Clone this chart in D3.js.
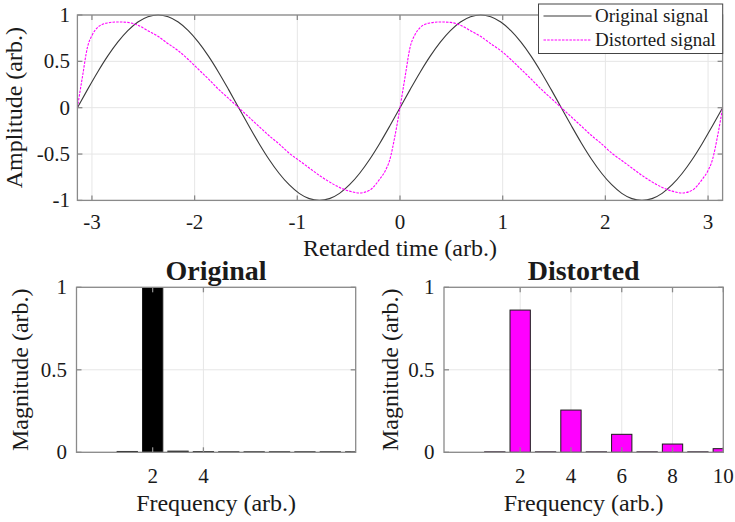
<!DOCTYPE html>
<html>
<head>
<meta charset="utf-8">
<script src="https://cdn.jsdelivr.net/npm/d3@7"></script>
<style>
  html, body { margin: 0; padding: 0; background: #fff; }
  text { font-family: "Liberation Serif", "Times New Roman", serif; fill: #1a1a1a; }
</style>
</head>
<body>
<svg id="chart" width="735" height="522"></svg>
<script>
// ---------------- DATA ----------------
// Original signal samples (retarded time, amplitude)
const time = [-3.1416,-3.0434,-2.9452,-2.8471,-2.7489,-2.6507,-2.5525,-2.4544,-2.3562,-2.2580,-2.1598,-2.0617,-1.9635,-1.8653,-1.7671,-1.6690,-1.5708,-1.4726,-1.3744,-1.2763,-1.1781,-1.0799,-0.9817,-0.8836,-0.7854,-0.6872,-0.5890,-0.4909,-0.3927,-0.2945,-0.1963,-0.0982,0,0.0982,0.1963,0.2945,0.3927,0.4909,0.5890,0.6872,0.7854,0.8836,0.9817,1.0799,1.1781,1.2763,1.3744,1.4726,1.5708,1.6690,1.7671,1.8653,1.9635,2.0617,2.1598,2.2580,2.3562,2.4544,2.5525,2.6507,2.7489,2.8471,2.9452,3.0434,3.1416];
const originalSignal = [0,.195,.383,.556,.707,.831,.924,.981,1,.981,.924,.831,.707,.556,.383,.195,0,-.195,-.383,-.556,-.707,-.831,-.924,-.981,-1,-.981,-.924,-.831,-.707,-.556,-.383,-.195,0,.195,.383,.556,.707,.831,.924,.981,1,.981,.924,.831,.707,.556,.383,.195,0,-.195,-.383,-.556,-.707,-.831,-.924,-.981,-1,-.981,-.924,-.831,-.707,-.556,-.383,-.195,0];
// Distorted signal samples (denser where the wave is steep)
const distortedTime = [-3.142,-3.093,-3.044,-2.995,-2.946,-2.897,-2.847,-2.749,-2.651,-2.553,-2.455,-2.357,-2.258,-2.160,-2.062,-1.964,-1.866,-1.768,-1.669,-1.571,-1.473,-1.375,-1.277,-1.179,-1.080,-0.982,-0.884,-0.786,-0.688,-0.589,-0.491,-0.393,-0.295,-0.246,-0.197,-0.148,-0.099,-0.050,
  0,0.049,0.098,0.147,0.196,0.245,0.295,0.393,0.491,0.589,0.687,0.785,0.884,0.982,1.080,1.178,1.276,1.374,1.473,1.571,1.669,1.767,1.865,1.963,2.062,2.160,2.258,2.356,2.454,2.553,2.651,2.749,2.847,2.896,2.945,2.994,3.043,3.092,3.142];
const distortedSignal = [0,.33,.65,.79,.865,.90,.915,.925,.92,.89,.83,.77,.69,.615,.52,.415,.31,.20,.10,0,-.10,-.20,-.30,-.39,-.49,-.57,-.65,-.73,-.80,-.86,-.90,-.92,-.89,-.84,-.77,-.69,-.56,-.31,
  0,.33,.65,.79,.865,.90,.915,.925,.92,.89,.83,.77,.69,.615,.52,.415,.31,.20,.10,0,-.10,-.20,-.30,-.39,-.49,-.57,-.65,-.73,-.80,-.86,-.90,-.92,-.89,-.84,-.77,-.69,-.56,-.31,0];
const topXTicks = [-3,-2,-1,0,1,2,3];
const topYTicks = [-1,-0.5,0,0.5,1];

const frequency = [1,2,3,4,5,6,7,8,9,10];
const originalMagnitude = [0.005,1,0.007,0.004,0.003,0.003,0.003,0.003,0.003,0.003];
const distortedMagnitude = [0.003,0.862,0.003,0.256,0.003,0.109,0.003,0.050,0.003,0.022];
const origXTicks = [2,4];
const distXTicks = [2,4,6,8,10];
const magYTicks = [0,0.5,1];

const legendLabels = ["Original signal","Distorted signal"];

// ---------------- DRAW ----------------
const svg = d3.select("#chart");
svg.append("rect").attr("width",735).attr("height",522).attr("fill","#fff");

const AX = "#8a8a8a", GRID = "#e6e6e6", TICKLEN = 5;
const fmt = d => d3.format("~g")(d).replace("\u2212","-");

function grid(g, x, y, xt, yt) {
  const [x0,x1] = x.range(), y0 = y.range()[1], y1 = y.range()[0];
  g.append("g").selectAll("line").data(xt).join("line").attr("stroke",GRID).attr("stroke-width",1)
    .attr("x1",d=>x(d)).attr("x2",d=>x(d)).attr("y1",y0).attr("y2",y1);
  g.append("g").selectAll("line").data(yt).join("line").attr("stroke",GRID).attr("stroke-width",1)
    .attr("y1",d=>y(d)).attr("y2",d=>y(d)).attr("x1",x0).attr("x2",x1);
}
function box(g, x, y, xt, yt, o) {
  const [x0,x1] = x.range(), y0 = y.range()[1], y1 = y.range()[0];
  const ax = g.append("g");
  ax.append("rect").attr("x",x0).attr("y",y0).attr("width",x1-x0).attr("height",y1-y0)
    .attr("fill","none").attr("stroke",AX).attr("stroke-width",1.3);
  xt.forEach(d=>{
    ax.append("line").attr("x1",x(d)).attr("x2",x(d)).attr("y1",y1).attr("y2",y1-TICKLEN).attr("stroke",AX).attr("stroke-width",1.3);
    ax.append("line").attr("x1",x(d)).attr("x2",x(d)).attr("y1",y0).attr("y2",y0+TICKLEN).attr("stroke",AX).attr("stroke-width",1.3);
    ax.append("text").attr("x",x(d)).attr("y",y1+o.xTickDy).attr("text-anchor","middle")
      .attr("font-size",o.tickSize).text(fmt(d));
  });
  yt.forEach(d=>{
    ax.append("line").attr("y1",y(d)).attr("y2",y(d)).attr("x1",x0).attr("x2",x0+TICKLEN).attr("stroke",AX).attr("stroke-width",1.3);
    ax.append("line").attr("y1",y(d)).attr("y2",y(d)).attr("x1",x1).attr("x2",x1-TICKLEN).attr("stroke",AX).attr("stroke-width",1.3);
    ax.append("text").attr("x",x0-o.yTickGap).attr("y",y(d)+7).attr("text-anchor","end")
      .attr("font-size",o.tickSize).text(fmt(d));
  });
  ax.append("text").attr("x",(x0+x1)/2).attr("y",o.xLabelY).attr("text-anchor","middle")
    .attr("font-size",24).text(o.xLabel);
  ax.append("text").attr("transform",`translate(${o.yLabelX},${(y0+y1)/2}) rotate(-90)`)
    .attr("text-anchor","middle").attr("font-size",24).text(o.yLabel);
  if (o.title) ax.append("text").attr("x",(x0+x1)/2).attr("y",o.titleY).attr("text-anchor","middle")
    .attr("font-size",28).attr("font-weight","bold").text(o.title);
}

// ---- Top plot ----
const xT = d3.scaleLinear().domain([-Math.PI, Math.PI]).range([77.4, 722.6]);
const yT = d3.scaleLinear().domain([-1, 1]).range([200.4, 15]);
const gTop = svg.append("g");
grid(gTop, xT, yT, topXTicks, topYTicks);
const origPts = time.map((t,i)=>({t, v: originalSignal[i]}));
const distPts = distortedTime.map((t,i)=>({t, v: distortedSignal[i]}));
const lineGen = d3.line().x(p=>xT(p.t)).y(p=>yT(p.v)).curve(d3.curveMonotoneX);
gTop.append("path").datum(origPts).attr("d", lineGen)
  .attr("fill","none").attr("stroke","#3a3a3a").attr("stroke-width",1.1);
gTop.append("path").datum(distPts).attr("d", lineGen)
  .attr("fill","none").attr("stroke","#ff00ff").attr("stroke-width",1.1).attr("stroke-dasharray","2.5,1.2");
box(gTop, xT, yT, topXTicks, topYTicks, {tickSize:21, xTickDy:28.6, yTickGap:7.5, xLabelY:256, xLabel:"Retarded time (arb.)", yLabelX:22, yLabel:"Amplitude (arb.)"});

// legend
const lg = svg.append("g");
lg.append("rect").attr("x",538.5).attr("y",4).attr("width",184.2).attr("height",49.5)
  .attr("fill","#fff").attr("stroke","#444").attr("stroke-width",1);
const legStyles = [{stroke:"#3a3a3a", dash:null},{stroke:"#ff00ff", dash:"2.5,1.2"}];
legendLabels.forEach((lab,i)=>{
  const ly = 16 + i*24;
  lg.append("line").attr("x1",543.5).attr("x2",591.5).attr("y1",ly).attr("y2",ly)
    .attr("stroke",legStyles[i].stroke).attr("stroke-width",1.1).attr("stroke-dasharray",legStyles[i].dash);
  lg.append("text").attr("x",595).attr("y",ly+5.5).attr("font-size",19).text(lab);
});

// ---- Bottom plots ----
function barPlot(x0, x1, mags, fill, xt, title, yLabelX) {
  const x = d3.scaleLinear().domain([-1, 10]).range([x0, x1]);
  const y = d3.scaleLinear().domain([0, 1]).range([452.3, 287.3]);
  const g = svg.append("g");
  grid(g, x, y, xt, magYTicks);
  const id = "clip" + Math.round(x0);
  svg.append("clipPath").attr("id", id).append("rect")
    .attr("x",x0).attr("y",287.3).attr("width",x1-x0).attr("height",452.3-287.3);
  const bw = x(0.8) - x(0);
  g.append("g").attr("clip-path",`url(#${id})`).selectAll("rect")
    .data(frequency.map((f,i)=>({f, m: mags[i]})))
    .join("rect")
    .attr("x", d=>x(d.f) - bw/2).attr("width", bw)
    .attr("y", d=>y(d.m)).attr("height", d=>Math.max(0.6, y(0)-y(d.m)))
    .attr("fill", fill).attr("stroke","#1a1a1a").attr("stroke-width",1);
  box(g, x, y, xt, magYTicks, {tickSize:21, xTickDy:31, yTickGap:9.5, xLabelY:510.5, xLabel:"Frequency (arb.)", yLabelX, yLabel:"Magnitude (arb.)", title, titleY:280});
}
barPlot(76.5, 355.7, originalMagnitude, "#000", origXTicks, "Original", 28);
barPlot(444, 723.3, distortedMagnitude, "#ff00ff", distXTicks, "Distorted", 398);
</script>
</body>
</html>
